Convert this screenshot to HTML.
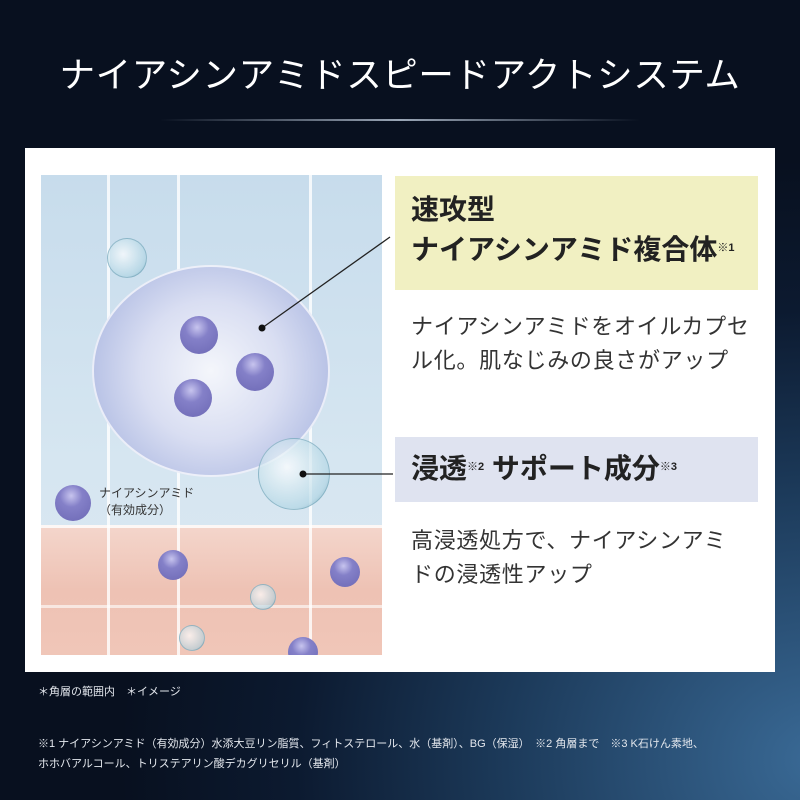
<!DOCTYPE html>
<html><head><meta charset="utf-8"><style>
*{margin:0;padding:0;box-sizing:border-box}
body{width:800px;height:800px;overflow:hidden;font-family:"Liberation Sans","Noto Sans CJK JP",sans-serif;
background:radial-gradient(ellipse 700px 600px at 820px 760px,#3a6a96 0%,#1c3a5a 45%,#0c1a30 75%,#08101f 100%);position:relative;color:#fff}
.t{position:absolute;left:0;width:800px;top:47px;text-align:center;font-size:35.5px;letter-spacing:0.6px;color:#fff}
.line{position:absolute;left:160px;top:119px;width:480px;height:2px;background:linear-gradient(90deg,transparent,#9aa6b6,transparent)}
.panel{position:absolute;left:25px;top:148px;width:750px;height:524px;background:#fff}
.img{position:absolute;left:41px;top:175px;width:341px;height:480px;overflow:hidden;background:linear-gradient(180deg,#c7dcec,#d6e6f1 60%,#dbe8f1)}
.pink{position:absolute;left:0;top:350px;width:341px;height:130px;background:linear-gradient(180deg,#f4d6cc,#eec2b4 50%,#f0c6b8)}
.v{position:absolute;top:0;width:3px;height:480px;background:rgba(255,255,255,.8)}
.ball{position:absolute;border-radius:50%;background:radial-gradient(circle at 45% 30%,#c7c4ee 0%,#8480c8 35%,#6c68b4 100%)}
.bub{position:absolute;border-radius:50%;background:radial-gradient(circle at 40% 40%,rgba(255,255,255,.7),rgba(170,210,225,.6) 70%,rgba(90,150,170,.8));border:1px solid rgba(110,160,180,.6)}
.box{position:absolute;left:395px;width:363px;color:#222}
.j{position:absolute;color:#333;font-size:22px;letter-spacing:0.7px;line-height:34px;left:411px;width:360px;white-space:nowrap}
sup{font-size:11px;vertical-align:top;position:relative;top:-2px}
.fn{position:absolute;left:38px;font-size:11px;color:#e4e8ee}
</style></head><body>
<div class="t">ナイアシンアミドスピードアクトシステム</div>
<div class="line"></div>
<div class="panel"></div>
<div class="img">
 <div class="pink"></div>
 <div class="v" style="left:66px"></div><div class="v" style="left:136px"></div><div class="v" style="left:268px"></div>
 <div style="position:absolute;left:0;top:350px;width:341px;height:3px;background:rgba(255,255,255,.8)"></div>
 <div style="position:absolute;left:0;top:430px;width:341px;height:3px;background:rgba(255,255,255,.6)"></div>
 <div style="position:absolute;left:51px;top:90px;width:238px;height:212px;border-radius:50%;background:radial-gradient(circle at 50% 50%,#f4f6fb 0%,#d9def2 45%,#b9c3e6 75%,#c7d4ec 100%);border:2px solid rgba(255,255,255,.7)"></div>
 <div class="bub" style="left:66px;top:63px;width:40px;height:40px"></div>
 <div class="ball" style="left:139px;top:141px;width:38px;height:38px"></div>
 <div class="ball" style="left:195px;top:178px;width:38px;height:38px"></div>
 <div class="ball" style="left:133px;top:204px;width:38px;height:38px"></div>
 <div class="bub" style="left:217px;top:263px;width:72px;height:72px"></div>
 <div class="ball" style="left:14px;top:310px;width:36px;height:36px"></div>
 <div style="position:absolute;left:58px;top:310px;font-size:12px;color:#333;line-height:17px">ナイアシンアミド<br>（有効成分）</div>
 <div class="ball" style="left:117px;top:375px;width:30px;height:30px"></div>
 <div class="ball" style="left:289px;top:382px;width:30px;height:30px"></div>
 <div class="bub" style="left:209px;top:409px;width:26px;height:26px"></div>
 <div class="bub" style="left:138px;top:450px;width:26px;height:26px"></div>
 <div class="ball" style="left:247px;top:462px;width:30px;height:30px"></div>
</div>
<svg style="position:absolute;left:0;top:0" width="800" height="800">
<line x1="262" y1="328" x2="390" y2="237" stroke="#222" stroke-width="1.3"/><circle cx="262" cy="328" r="3.5" fill="#111"/>
<line x1="303" y1="474" x2="393" y2="474" stroke="#222" stroke-width="1.3"/><circle cx="303" cy="474" r="3.5" fill="#111"/>
</svg>
<div class="box" style="top:176px;height:114px;background:#f1f0c2;padding:14px 0 0 16px;font-size:28px;line-height:40px;font-weight:bold">速攻型<br>ナイアシンアミド複合体<sup>※1</sup></div>
<div class="j" style="top:310px">ナイアシンアミドをオイルカプセ<br>ル化。肌なじみの良さがアップ</div>
<div class="box" style="top:437px;height:65px;background:#dfe3f0;padding:12px 0 0 16px;font-size:28px;line-height:40px;font-weight:bold">浸透<sup>※2</sup> サポート成分<sup>※3</sup></div>
<div class="j" style="top:524px">高浸透処方で、ナイアシンアミ<br>ドの浸透性アップ</div>
<div class="fn" style="top:683px">＊角層の範囲内　＊イメージ</div>
<div class="fn" style="top:734px;line-height:20px;width:740px">※1 ナイアシンアミド（有効成分）水添大豆リン脂質、フィトステロール、水（基剤）、BG（保湿）　※2 角層まで　※3 K石けん素地、<br>ホホバアルコール、トリステアリン酸デカグリセリル（基剤）</div>
</body></html>
